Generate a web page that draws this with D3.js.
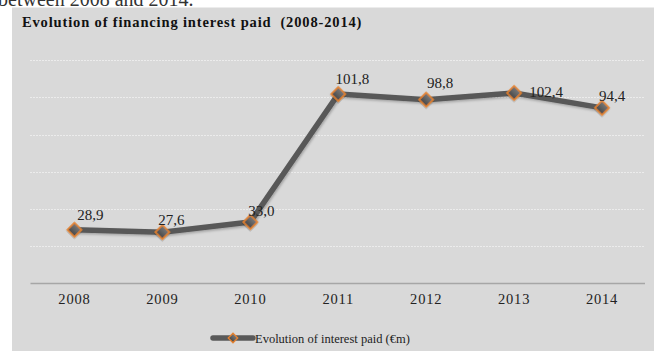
<!DOCTYPE html>
<html>
<head>
<meta charset="utf-8">
<script src="https://cdn.jsdelivr.net/npm/d3@7"></script>
<style>
  html, body { margin: 0; padding: 0; background: #ffffff; }
  svg { display: block; }
</style>
</head>
<body>
<script>
// ---- data ----
const years = ["2008", "2009", "2010", "2011", "2012", "2013", "2014"];
const interestPaid = [28.9, 27.6, 33.0, 101.8, 98.8, 102.4, 94.4];
const valueLabels = ["28,9", "27,6", "33,0", "101,8", "98,8", "102,4", "94,4"];
const gridTicks = [20, 40, 60, 80, 100, 120];
const chartTitle = "Evolution of financing interest paid  (2008-2014)";
const seriesName = "Evolution of interest paid (€m)";
const headerText = "between 2008 and 2014.";
// manual label offsets (dx from point to label centre, dy to baseline)
const labelOffsets = [[16, -10], [9, -7], [11, -6], [14, -10], [14, -12], [32, 4], [10, -7]];

const W = 658, H = 351;
const svg = d3.select("body").append("svg").attr("width", W).attr("height", H);

const defs = svg.append("defs");
const grad = defs.append("linearGradient").attr("id", "mk").attr("x1", 0).attr("y1", 0).attr("x2", 0).attr("y2", 1);
grad.append("stop").attr("offset", "0%").attr("stop-color", "#7a7a7a");
grad.append("stop").attr("offset", "100%").attr("stop-color", "#474747");
const f = defs.append("filter").attr("id", "sh").attr("x", "-20%").attr("y", "-20%").attr("width", "140%").attr("height", "140%");
f.append("feDropShadow").attr("dx", 1).attr("dy", 1.5).attr("stdDeviation", 1.2).attr("flood-color", "#000").attr("flood-opacity", 0.25);

// header text (partly above the page top, as in the source)
svg.append("text").attr("x", -2).attr("y", 5.5)
  .attr("font-family", "Liberation Serif, serif").attr("font-size", 20).attr("fill", "#333")
  .text(headerText);

// panel
svg.append("rect").attr("x", 12).attr("y", 7.5).attr("width", 642).attr("height", 350).attr("fill", "#d9d9d9");

svg.append("text").attr("x", 22).attr("y", 27)
  .attr("font-family", "Liberation Serif, serif").attr("font-size", 14.5).attr("font-weight", "bold").attr("fill", "#111")
  .attr("letter-spacing", 0.85)
  .attr("xml:space", "preserve").style("white-space", "pre")
  .text(chartTitle);

const x = d3.scaleBand().domain(years).range([30.5, 646]);
const y = d3.scaleLinear().domain([0, 140]).range([283.5, 23]);

// gridlines
svg.append("g").selectAll("line").data(gridTicks).join("line")
  .attr("x1", 30.5).attr("x2", 645)
  .attr("y1", d => Math.round(y(d)) + 0.5).attr("y2", d => Math.round(y(d)) + 0.5)
  .attr("stroke", "#ffffff").attr("stroke-width", 1).attr("stroke-dasharray", "1,2");

// x axis
const xAxis = svg.append("g").attr("transform", `translate(0,${y(0)})`)
  .call(d3.axisBottom(x).tickSize(0).tickPadding(10));
xAxis.select(".domain").attr("stroke", "#a6a6a6").attr("stroke-width", 1.5).attr("d", `M30.5,0H645`);
xAxis.selectAll("text").attr("font-family", "Liberation Serif, serif").attr("font-size", 14.5)
  .attr("letter-spacing", 0.8).attr("fill", "#222");

const cx = (d, i) => x(years[i]) + x.bandwidth() / 2;

// line
const line = d3.line().x((d, i) => cx(d, i)).y(d => y(d));
svg.append("path").datum(interestPaid).attr("d", line)
  .attr("fill", "none").attr("stroke", "#595959").attr("stroke-width", 5.5)
  .attr("stroke-linejoin", "round").attr("filter", "url(#sh)");

// markers
svg.append("g").selectAll("path").data(interestPaid).join("path")
  .attr("d", d3.symbol().type(d3.symbolSquare).size(100)())
  .attr("transform", (d, i) => `translate(${cx(d, i)},${y(d)}) rotate(45)`)
  .attr("fill", "url(#mk)").attr("stroke", "#e8822e").attr("stroke-width", 1.6)
  .attr("filter", "url(#sh)");

// value labels
svg.append("g").selectAll("text").data(interestPaid).join("text")
  .attr("x", (d, i) => cx(d, i) + labelOffsets[i][0])
  .attr("y", (d, i) => y(d) + labelOffsets[i][1])
  .attr("text-anchor", "middle")
  .attr("font-family", "Liberation Serif, serif").attr("font-size", 15).attr("fill", "#222")
  .text((d, i) => valueLabels[i]);

// legend
const lg = svg.append("g").attr("transform", "translate(0,338)");
lg.append("line").attr("x1", 213).attr("x2", 253).attr("y1", 0).attr("y2", 0)
  .attr("stroke", "#595959").attr("stroke-width", 5.5).attr("stroke-linecap", "round");
lg.append("path").attr("d", d3.symbol().type(d3.symbolSquare).size(45)())
  .attr("transform", "translate(233,0) rotate(45)")
  .attr("fill", "url(#mk)").attr("stroke", "#e8822e").attr("stroke-width", 1.3);
lg.append("text").attr("x", 255).attr("y", 4.5)
  .attr("font-family", "Liberation Serif, serif").attr("font-size", 12.5).attr("fill", "#222")
  .text(seriesName);
</script>
</body>
</html>
